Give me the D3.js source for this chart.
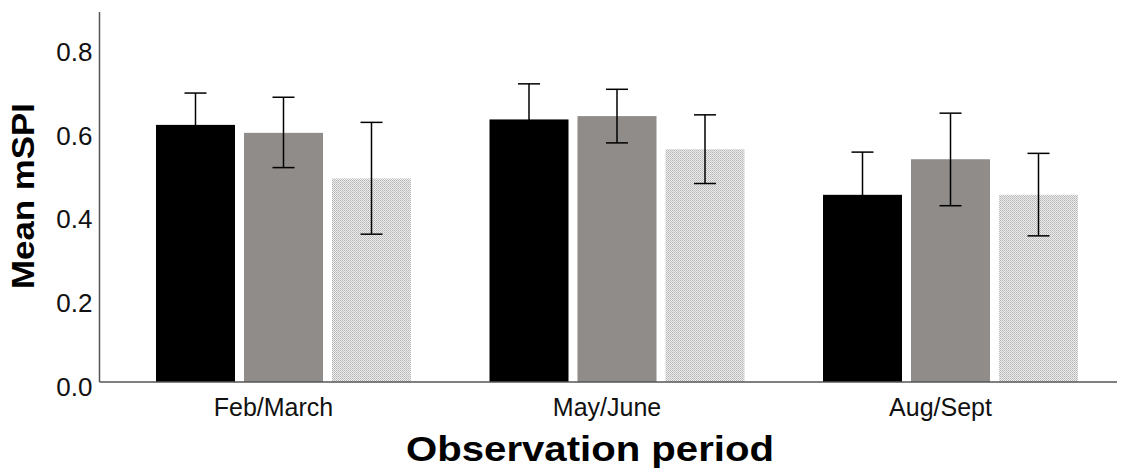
<!DOCTYPE html>
<html>
<head>
<meta charset="utf-8">
<script src="https://cdn.jsdelivr.net/npm/d3@7"></script>
<style>
    body { margin: 0; background: #fff; }
    svg { display: block; font-family: Arial, 'Liberation Sans', sans-serif; }
</style>
</head>
<body>
<svg id="chart"></svg>
<script>
var periods = ['Feb/March', 'May/June', 'Aug/Sept'];
var groups = ['g1', 'g2', 'g3'];

// mean mSPI per period, one array per group
var means = {
    g1: [0.614, 0.627, 0.447],
    g2: [0.595, 0.635, 0.532],
    g3: [0.486, 0.556, 0.447]
};
// error bar ends (lower, upper)
var errLow = {
    g1: [0.538, 0.542, 0.345],
    g2: [0.512, 0.571, 0.421],
    g3: [0.353, 0.474, 0.349]
};
var errHigh = {
    g1: [0.690, 0.712, 0.549],
    g2: [0.680, 0.699, 0.642],
    g3: [0.620, 0.638, 0.546]
};
var yTicks = [0.0, 0.2, 0.4, 0.6, 0.8];

var chartVars = {
    width: 1126,
    height: 475,
    axisX: 99.5,
    baseY: 382,
    topY: 12,
    rightX: 1117
};

var svg = d3.select('#chart')
    .attr('width', chartVars.width)
    .attr('height', chartVars.height);

// dotted fill for the third group
var defs = svg.append('defs');
var pat = defs.append('pattern')
    .attr('id', 'dots')
    .attr('patternUnits', 'userSpaceOnUse')
    .attr('width', 2)
    .attr('height', 2);
pat.append('rect')
    .attr('width', 2)
    .attr('height', 2)
    .attr('fill', '#eeeeee');
pat.append('rect')
    .attr('width', 1)
    .attr('height', 1)
    .attr('fill', '#b4b4b4');
pat.append('rect')
    .attr('x', 1)
    .attr('y', 1)
    .attr('width', 1)
    .attr('height', 1)
    .attr('fill', '#c4c4c4');

var fills = {g1: '#000000', g2: '#8f8c8a', g3: 'url(#dots)'};

var y = d3.scaleLinear()
    .domain([0, 1])
    .range([chartVars.baseY, chartVars.baseY - 418.75]);

var x0 = d3.scaleBand()
    .domain(periods)
    .range([116.75, chartVars.rightX + 0.25])
    .paddingInner(0.2354)
    .paddingOuter(0.1177);

var x1 = d3.scaleBand()
    .domain(groups)
    .range([0, x0.bandwidth()])
    .paddingInner(0.1023);

// flatten into bar records
var bars = [];
periods.forEach(function(p, i) {
    groups.forEach(function(g) {
        bars.push({period: p, group: g, value: means[g][i], lo: errLow[g][i], hi: errHigh[g][i]});
    });
});

var barG = svg.append('g').attr('class', 'bars');
barG.selectAll('rect')
    .data(bars)
    .enter()
    .append('rect')
    .attr('x', function(d) {return x0(d.period) + x1(d.group);})
    .attr('y', function(d) {return y(d.value);})
    .attr('width', x1.bandwidth())
    .attr('height', function(d) {return y(0) - y(d.value);})
    .attr('fill', function(d) {return fills[d.group];});

// error bars
var capW = 22;
var errG = svg.append('g')
    .attr('class', 'errors')
    .attr('stroke', '#000')
    .attr('stroke-width', 1.5)
    .attr('fill', 'none');
bars.forEach(function(d) {
    var cx = x0(d.period) + x1(d.group) + x1.bandwidth() / 2;
    errG.append('line')
        .attr('x1', cx).attr('x2', cx)
        .attr('y1', y(d.lo)).attr('y2', y(d.hi));
    errG.append('line')
        .attr('x1', cx - capW / 2).attr('x2', cx + capW / 2)
        .attr('y1', y(d.hi)).attr('y2', y(d.hi));
    errG.append('line')
        .attr('x1', cx - capW / 2).attr('x2', cx + capW / 2)
        .attr('y1', y(d.lo)).attr('y2', y(d.lo));
});

// axes
var axisG = svg.append('g').attr('class', 'axes');
axisG.append('line')
    .attr('x1', chartVars.axisX).attr('x2', chartVars.axisX)
    .attr('y1', chartVars.topY).attr('y2', chartVars.baseY)
    .attr('stroke', '#555')
    .attr('stroke-width', 1.5);
axisG.append('line')
    .attr('x1', chartVars.axisX).attr('x2', chartVars.rightX)
    .attr('y1', chartVars.baseY).attr('y2', chartVars.baseY)
    .attr('stroke', '#555')
    .attr('stroke-width', 1.5);

var yAxis = d3.axisLeft(y)
    .tickValues(yTicks)
    .tickFormat(d3.format('.1f'))
    .tickSize(0)
    .tickPadding(7);
svg.append('g')
    .attr('transform', 'translate(' + chartVars.axisX + ',5)')
    .call(yAxis)
    .call(function(g) {g.select('.domain').remove();})
    .selectAll('text')
    .attr('font-size', '26px')
    .attr('font-family', 'Arial, Liberation Sans, sans-serif')
    .attr('fill', '#111');

var xAxis = d3.axisBottom(x0)
    .tickSize(0)
    .tickPadding(16);
svg.append('g')
    .attr('transform', 'translate(-10,' + chartVars.baseY + ')')
    .call(xAxis)
    .call(function(g) {g.select('.domain').remove();})
    .selectAll('text')
    .attr('font-size', '25px')
    .attr('font-family', 'Arial, Liberation Sans, sans-serif')
    .attr('fill', '#111');

// titles
svg.append('text')
    .attr('x', 590)
    .attr('y', 461)
    .attr('text-anchor', 'middle')
    .attr('font-size', '35px')
    .attr('font-weight', 'bold')
    .attr('textLength', 368)
    .attr('lengthAdjust', 'spacingAndGlyphs')
    .text('Observation period');

svg.append('text')
    .attr('transform', 'translate(34,196) rotate(-90)')
    .attr('text-anchor', 'middle')
    .attr('font-size', '31px')
    .attr('font-weight', 'bold')
    .attr('textLength', 186)
    .attr('lengthAdjust', 'spacingAndGlyphs')
    .text('Mean mSPI');
</script>
</body>
</html>
